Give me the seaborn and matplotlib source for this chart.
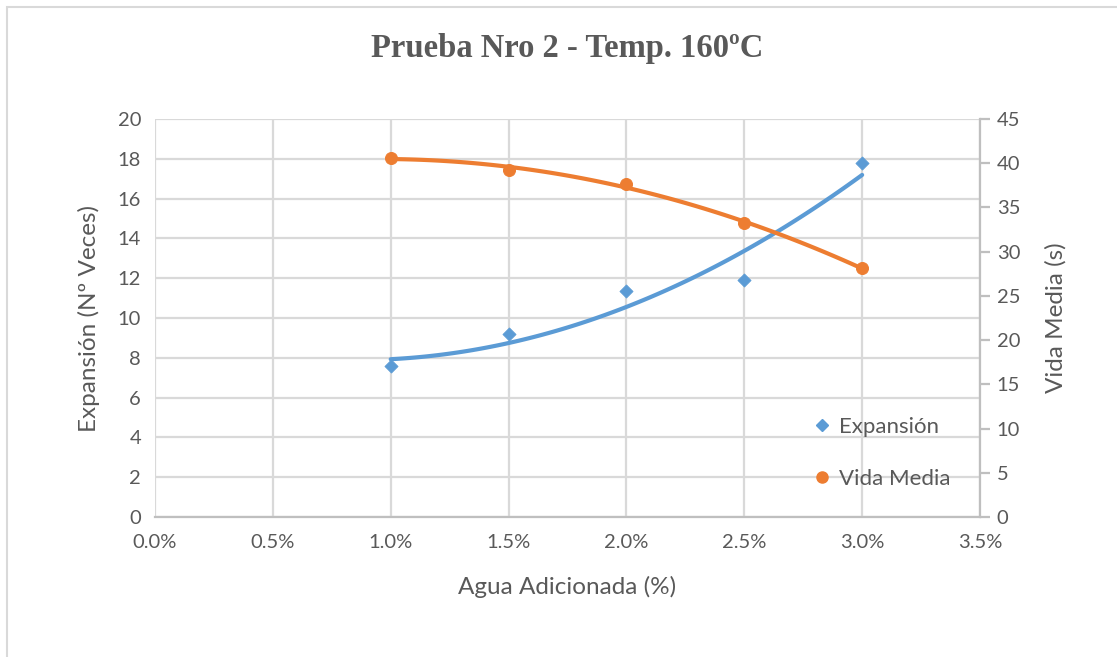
import matplotlib
matplotlib.use("Agg")
import matplotlib.pyplot as plt
import seaborn as sns
import pandas as pd
from matplotlib.ticker import PercentFormatter, MultipleLocator
from matplotlib.lines import Line2D
from matplotlib.patches import Rectangle

agua = [0.010, 0.015, 0.020, 0.025, 0.030]
expansion = [7.58, 9.18, 11.34, 11.89, 17.80]
vida_media = [40.6, 39.2, 37.65, 33.25, 28.1]

title = "Prueba Nro 2 - Temp. 160ºC"
xlabel = "Agua Adicionada (%)"
ylabel_left = "Expansión (Nº Veces)"
ylabel_right = "Vida Media (s)"
series_names = ["Expansión", "Vida Media"]

BLUE = "#5B9BD5"
ORANGE = "#ED7D31"
GRAY = "#595959"
GRID = "#D9D9D9"

df = pd.DataFrame({"agua": agua, "exp": expansion, "vida": vida_media})

sns.set_theme(style="white")
plt.rcParams["font.family"] = ["Lato", "DejaVu Sans"]

fig = plt.figure(figsize=(11.17, 6.57), dpi=100)
ax = fig.add_axes([155 / 1117, 1 - 517 / 657, (980 - 155) / 1117, (517 - 119) / 657])
ax2 = ax.twinx()

# frame around the chart
fig.patches.append(Rectangle((7 / 1117, -0.1), 1.2, (657 - 7) / 657 + 0.1,
                             transform=fig.transFigure, fill=False,
                             edgecolor="#D9D9D9", linewidth=1.5, zorder=0))

# left axis: expansion
sns.regplot(data=df, x="agua", y="exp", order=2, ci=None, scatter=False, ax=ax,
            line_kws=dict(color=BLUE, lw=3.0, zorder=3))
sns.scatterplot(data=df, x="agua", y="exp", ax=ax, marker="D", s=45,
                color=BLUE, edgecolor=BLUE, zorder=4)

# right axis: vida media
sns.regplot(data=df, x="agua", y="vida", order=2, ci=None, scatter=False, ax=ax2,
            line_kws=dict(color=ORANGE, lw=3.0, zorder=3))
sns.scatterplot(data=df, x="agua", y="vida", ax=ax2, marker="o", s=75,
                color=ORANGE, edgecolor=ORANGE, zorder=4)

ax.set_xlim(0, 0.035)
ax.set_ylim(0, 20)
ax2.set_ylim(0, 45)
ax.xaxis.set_major_locator(MultipleLocator(0.005))
ax.xaxis.set_major_formatter(PercentFormatter(xmax=1, decimals=1))
ax.yaxis.set_major_locator(MultipleLocator(2))
ax2.yaxis.set_major_locator(MultipleLocator(5))

ax.grid(True, color=GRID, lw=1.6)
ax.set_axisbelow(True)
ax2.grid(False)

for a in (ax, ax2):
    for s in a.spines.values():
        s.set_visible(False)
ax.spines["bottom"].set_visible(True)
ax.spines["bottom"].set_color("#BFBFBF")
ax.spines["bottom"].set_linewidth(1.6)
ax2.spines["right"].set_visible(True)
ax2.spines["right"].set_color("#BFBFBF")
ax2.spines["right"].set_linewidth(1.6)

ax.tick_params(axis="both", labelsize=14.5, colors=GRAY, length=0, pad=10)
ax.tick_params(axis="x", pad=12)
ax2.tick_params(axis="y", labelsize=14.5, colors=GRAY, length=7, width=1.6,
                direction="out", pad=5)
ax2.tick_params(axis="y", color="#BFBFBF")

ax.set_xlabel(xlabel, fontsize=17.5, color=GRAY, labelpad=18)
ax.set_ylabel(ylabel_left, fontsize=17.5, color=GRAY, labelpad=13)
ax2.set_ylabel(ylabel_right, fontsize=17.5, color=GRAY, labelpad=18)

fig.suptitle(title, x=(155 + 980) / 2 / 1117 + 0.0, y=1 - 48 / 657, va="center",
             fontsize=23.5, fontweight="bold", color=GRAY,
             family=["Liberation Serif", "DejaVu Serif"])

handles = [Line2D([], [], marker="D", ls="none", color=BLUE, markersize=6),
           Line2D([], [], marker="o", ls="none", color=ORANGE, markersize=8)]
ax2.legend(handles, series_names, loc="center left",
           bbox_to_anchor=(815 / 1117, 1 - 453 / 657), bbox_transform=fig.transFigure,
           frameon=False, fontsize=16, labelcolor=GRAY, handlelength=0.6,
           handletextpad=0.5, labelspacing=1.45, borderaxespad=0, borderpad=0)

fig.savefig("out.png", dpi=100, facecolor="white")
